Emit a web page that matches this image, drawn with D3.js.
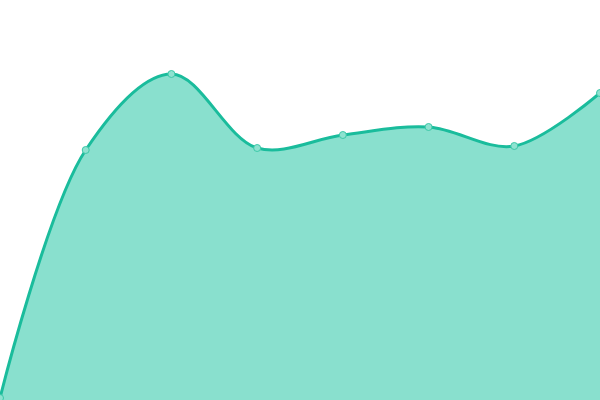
<!DOCTYPE html>
<html>
<head>
<meta charset="utf-8">
<script src="https://cdn.jsdelivr.net/npm/d3@7"></script>
<style>
  html, body { margin: 0; padding: 0; background: #fff; }
  svg { display: block; }
</style>
</head>
<body>
<svg id="chart"></svg>
<script>
var width = 600;
var height = 400;

// values
var categories = ["1", "2", "3", "4", "5", "6", "7", "8"];
var seriesValues = [0.4, 50, 65.2, 50.4, 53, 54.6, 50.8, 61.4];

var lineColor = "#1abc9c";
var fillColor = "#89e0ce";

var svg = d3.select("#chart")
    .attr("width", width)
    .attr("height", height);

var x = d3.scalePoint()
    .domain(categories)
    .range([0, width]);

var y = d3.scaleLinear()
    .domain([0, 80])
    .range([height, 0]);

var data = categories.map(function(c, i) {
    return { cat: c, value: seriesValues[i] };
});

var curve = d3.curveCatmullRom.alpha(0.5);

var area = d3.area()
    .x(function(d) { return x(d.cat); })
    .y0(height)
    .y1(function(d) { return y(d.value); })
    .curve(curve);

var line = d3.line()
    .x(function(d) { return x(d.cat); })
    .y(function(d) { return y(d.value); })
    .curve(curve);

svg.append("path")
    .datum(data)
    .attr("d", area)
    .attr("fill", fillColor);

svg.append("path")
    .datum(data)
    .attr("d", line)
    .attr("fill", "none")
    .attr("stroke", lineColor)
    .attr("stroke-width", 3);

svg.selectAll(".dot")
    .data(data)
    .enter().append("circle")
    .attr("class", "dot")
    .attr("cx", function(d) { return x(d.cat); })
    .attr("cy", function(d) { return y(d.value); })
    .attr("r", 3.5)
    .attr("fill", "#8ee2d0")
    .attr("stroke", "#3cc8a8")
    .attr("stroke-width", 1);
</script>
</body>
</html>
